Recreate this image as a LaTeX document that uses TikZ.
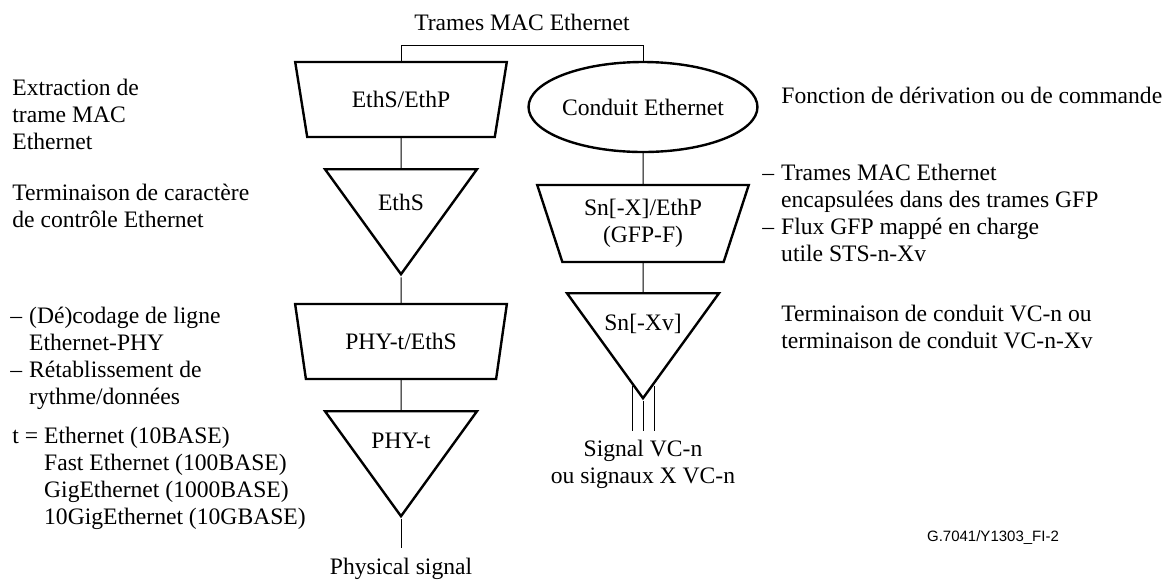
\documentclass[tikz,border=0pt]{standalone}
\usepackage{fontspec}
\setmainfont{Liberation Serif}
\newfontfamily\refsans{Liberation Sans}
\usetikzlibrary{positioning, shapes.geometric, calc}

\tikzset{
  txt/.style={font=\fontsize{11.8}{13.5}\selectfont, inner sep=0pt},
  funcbox/.style={draw, line width=1.2pt, trapezium, trapezium left angle=110.8,
    trapezium right angle=110.8, trapezium stretches=true,
    minimum width=106pt, minimum height=37.5pt, inner sep=0pt, txt, align=center},
  termtri/.style={draw, line width=1.2pt, isosceles triangle, shape border rotate=-90,
    isosceles triangle stretches=true, minimum width=76pt, minimum height=52.5pt,
    inner sep=0pt},
  pipeell/.style={draw, line width=1.2pt, ellipse, minimum width=107pt,
    minimum height=45pt, inner sep=0pt, txt},
  wire/.style={line width=0.5pt},
}

\begin{document}
\begin{tikzpicture}[x=0.5pt, y=-0.5pt]
\useasboundingbox (0,0) rectangle (1164,580);

\node[txt] (macTop) at (522,22) {Trames MAC Ethernet};

% left column
\node[funcbox] (ethSP) at (401,99.5) {EthS/EthP};
\node[termtri, anchor=north] (ethS) at (401,168) {};
\node[txt, below=13pt of ethS.north] (ethSlbl) {EthS};
\node[funcbox] (phyEthS) at (401,341.5) {PHY-t/EthS};
\node[termtri, anchor=north] (phyT) at (401,410) {};
\node[txt, below=11.5pt of phyT.north] (phyTlbl) {PHY-t};
\coordinate (physEnd) at (401,548);
\node[txt, below=5pt of physEnd] (physSig) {Physical signal};

% right column
\node[pipeell] (pipe) at (643,107) {Conduit Ethernet};
\node[funcbox, minimum height=38.5pt] (snEthP) at (643,223.5) {Sn[-X]/EthP\\(GFP-F)};
\node[termtri, anchor=north] (snX) at (643,292) {};
\node[txt, below=11pt of snX.north] (snXlbl) {Sn[-Xv]};
\coordinate (sigL) at ($(snX.apex)+(-11,30)$);
\coordinate (sigM) at ($(snX.apex)+(0,30)$);
\coordinate (sigR) at ($(snX.apex)+(11,30)$);
\node[txt, below=4pt of sigM, align=center] (vcSig) {Signal VC-n\\ou signaux X VC-n};

% connections
\draw[wire] (ethSP.north) -- ++(0,-15) -| (pipe.north);
\draw[wire] (ethSP.south) -- (ethS.north);
\draw[wire] (ethS.apex) -- (phyEthS.north);
\draw[wire] (phyEthS.south) -- (phyT.north);
\draw[wire] (phyT.apex) -- (physEnd);
\draw[wire] (pipe.south) -- (snEthP.north);
\draw[wire] (snEthP.south) -- (snX.north);
\draw[wire] (snX.apex) -- (sigM);
\draw[wire] ($(snX.apex)+(-11,-15.2)$) -- (sigL);
\draw[wire] ($(snX.apex)+(11,-15.2)$) -- (sigR);

% left notes
\node[txt, anchor=north west, align=left] (extractTxt) at (12,79)
  {Extraction de\\trame MAC\\Ethernet};
\node[txt, anchor=north west, align=left] (ctrlTxt) at (12,184)
  {Terminaison de caractère\\de contrôle Ethernet};
\node[txt, anchor=north west] (codingTxt) at (10,304)
  {\begin{tabular}{@{}l@{\hspace{3.5pt}}l@{}}
   –&(Dé)codage de ligne\\ &Ethernet-PHY\\ –&Rétablissement de\\ &rythme/données
   \end{tabular}};
\node[txt, anchor=north west] (typeTxt) at (12,424)
  {\begin{tabular}{@{}l@{\hspace{3pt}}l@{}}
   t =&Ethernet (10BASE)\\ &Fast Ethernet (100BASE)\\
   &GigEthernet (1000BASE)\\ &10GigEthernet (10GBASE)
   \end{tabular}};

% right notes
\node[txt, anchor=west] (adaptTxt) at (781,95) {Fonction de dérivation ou de commande};
\node[txt, anchor=north west] (gfpTxt) at (762,161)
  {\begin{tabular}{@{}l@{\hspace{3.5pt}}l@{}}
   –&Trames MAC Ethernet\\ &encapsulées dans des trames GFP\\
   –&Flux GFP mappé en charge\\ &utile STS-n-Xv
   \end{tabular}};
\node[txt, anchor=north west, align=left] (vcTermTxt) at (781,305)
  {Terminaison de conduit VC-n ou\\terminaison de conduit VC-n-Xv};

\node[font=\refsans\fontsize{7.5}{9}\selectfont, inner sep=0pt] (figRef) at (993,538)
  {G.7041/Y1303\_FI-2};
\end{tikzpicture}
\end{document}
